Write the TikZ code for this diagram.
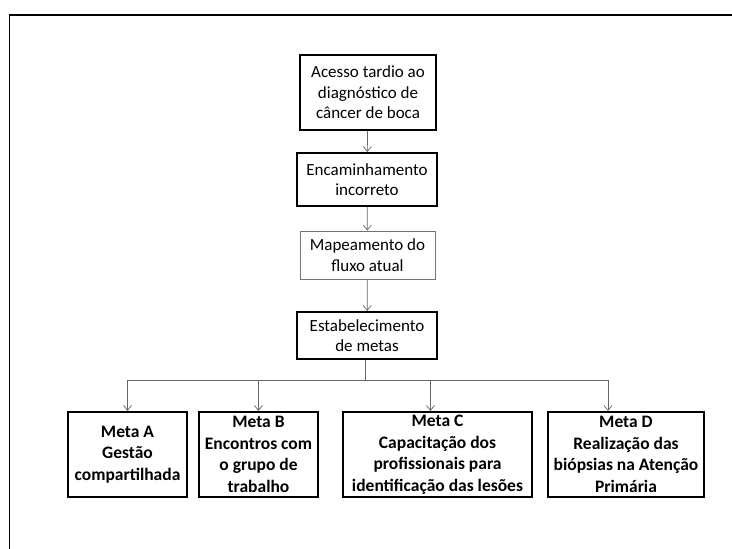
\documentclass[tikz,border=0pt]{standalone}
\usepackage{fontspec}
\setmainfont{Carlito}
\usetikzlibrary{arrows.meta}
\begin{document}
\begin{tikzpicture}[x=1pt,y=-1pt,
  thickbox/.style={draw=black,line width=2pt,align=center,inner sep=0pt,
    font=\fontsize{17}{20.5}\selectfont},
  thinbox/.style={draw=black!55,line width=0.8pt,align=center,inner sep=0pt,
    font=\fontsize{17}{20.5}\selectfont},
  metabox/.style={draw=black,line width=2pt,align=center,inner sep=0pt,
    minimum height=85pt,font=\bfseries\fontsize{17.5}{21.5}\selectfont},
  conn/.style={draw=black!60,line width=0.7pt},
  arr/.style={conn,-{Straight Barb[length=5pt,width=8pt]}}]
\useasboundingbox (0,0) rectangle (732,549);
\draw[line width=1.8pt] (9.5,549) -- (9.5,15) -- (732,15);
\node[thickbox,minimum width=136pt,minimum height=75pt] (n1) at (368,92.5)
  {Acesso tardio ao\\diagnóstico de\\câncer de boca};
\node[thickbox,minimum width=140pt,minimum height=53pt] (n2) at (367,179.5)
  {Encaminhamento\\incorreto};
\node[thinbox,minimum width=135pt,minimum height=48pt] (n3) at (367.5,255)
  {Mapeamento do\\fluxo atual};
\node[thickbox,minimum width=140pt,minimum height=47pt] (n4) at (367,335.5)
  {Estabelecimento\\de metas};
\node[metabox,minimum width=119pt] (a) at (127.5,454.5)
  {Meta A\\Gestão\\compartilhada};
\node[metabox,minimum width=119pt] (b) at (258.5,454.5)
  {Meta B\\Encontros com\\o grupo de\\trabalho};
\node[metabox,minimum width=189pt] (c) at (437.5,454.5)
  {Meta C\\Capacitação dos\\profissionais para\\identificação das lesões};
\node[metabox,minimum width=156pt] (d) at (626,454.5)
  {Meta D\\Realização das\\biópsias na Atenção\\Primária};
\draw[arr] (n1) -- (n2);
\draw[arr] (n2) -- (n3);
\draw[arr] (n3) -- (n4);
\coordinate (hub) at (365,380);
\coordinate (dtop) at (608,411);
\draw[conn] ([xshift=-2pt]n4.south) -- (hub);
\draw[arr] (hub) -| (a.north);
\draw[arr] (hub) -| (b.north);
\draw[arr] (hub) -| ([xshift=-7pt]c.north);
\draw[arr] (hub) -| (dtop);
\end{tikzpicture}
\end{document}
